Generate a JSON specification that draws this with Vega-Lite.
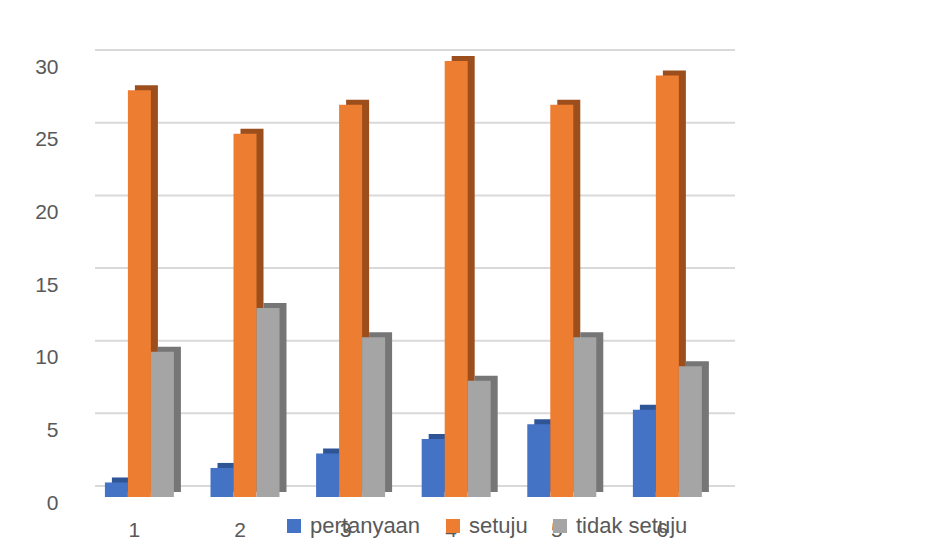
{
  "$schema": "https://vega.github.io/schema/vega-lite/v6.json",
  "autosize": "none",
  "padding": {"left": 95, "top": 48, "right": 199, "bottom": 63},
  "width": 640,
  "height": 449,
  "background": "white",
  "config": {"view": {"stroke": null}, "font": "Liberation Sans"},
  "data": {
    "values": [
      {"q": "1", "s": "pertanyaan", "v": 1},
      {"q": "1", "s": "setuju", "v": 28},
      {"q": "1", "s": "tidak setuju", "v": 10},
      {"q": "2", "s": "pertanyaan", "v": 2},
      {"q": "2", "s": "setuju", "v": 25},
      {"q": "2", "s": "tidak setuju", "v": 13},
      {"q": "3", "s": "pertanyaan", "v": 3},
      {"q": "3", "s": "setuju", "v": 27},
      {"q": "3", "s": "tidak setuju", "v": 11},
      {"q": "4", "s": "pertanyaan", "v": 4},
      {"q": "4", "s": "setuju", "v": 30},
      {"q": "4", "s": "tidak setuju", "v": 8},
      {"q": "5", "s": "pertanyaan", "v": 5},
      {"q": "5", "s": "setuju", "v": 27},
      {"q": "5", "s": "tidak setuju", "v": 11},
      {"q": "6", "s": "pertanyaan", "v": 6},
      {"q": "6", "s": "setuju", "v": 29},
      {"q": "6", "s": "tidak setuju", "v": 9}
    ]
  },
  "layer": [
    {
      "data": {"values": [{"g": 0}, {"g": 5}, {"g": 10}, {"g": 15}, {"g": 20}, {"g": 25}, {"g": 30}]},
      "mark": {"type": "rule", "color": "#d9d9d9", "strokeWidth": 2, "yOffset": -11, "y2Offset": -11},
      "encoding": {
        "y": {"field": "g", "type": "quantitative", "scale": {"domain": [0, 30.9], "nice": false, "zero": true},
          "axis": {"title": null, "values": [0, 5, 10, 15, 20, 25, 30], "domain": false, "ticks": false, "grid": false, "labelFontSize": 21, "labelColor": "#595959", "labelPadding": 37, "labelOffset": 6}}
      }
    },
    {
      "mark": {"type": "bar", "yOffset": -5, "y2Offset": -5},
      "encoding": {
        "x": {"field": "q", "type": "nominal", "scale": {"paddingInner": 0.347, "paddingOuter": 0.204, "align": 0.23},
          "axis": {"title": null, "domain": false, "ticks": false, "labelAngle": 0, "labelFontSize": 21, "labelColor": "#595959", "labelPadding": 22, "labelOffset": -5}},
        "xOffset": {"field": "s", "type": "nominal", "sort": ["pertanyaan", "setuju", "tidak setuju"], "scale": {"range": [7, 76]}},
        "y": {"field": "v", "type": "quantitative", "scale": {"domain": [0, 30.9], "nice": false},
          "axis": {"title": null, "values": [0, 5, 10, 15, 20, 25, 30], "domain": false, "ticks": false, "grid": false, "labelFontSize": 21, "labelColor": "#595959", "labelPadding": 37, "labelOffset": 6}},
        "color": {"field": "s", "type": "nominal", "scale": {"domain": ["pertanyaan", "setuju", "tidak setuju"], "range": ["#2F5597", "#9C4F1C", "#767676"]}, "legend": null}
      }
    },
    {
      "mark": {"type": "bar"},
      "encoding": {
        "x": {"field": "q", "type": "nominal", "scale": {"paddingInner": 0.347, "paddingOuter": 0.204, "align": 0.23},
          "axis": {"title": null, "domain": false, "ticks": false, "labelAngle": 0, "labelFontSize": 21, "labelColor": "#595959", "labelPadding": 22, "labelOffset": -5}},
        "xOffset": {"field": "s", "type": "nominal", "sort": ["pertanyaan", "setuju", "tidak setuju"], "scale": {"range": [0, 69]}},
        "y": {"field": "v", "type": "quantitative", "scale": {"domain": [0, 30.9], "nice": false},
          "axis": {"title": null, "values": [0, 5, 10, 15, 20, 25, 30], "domain": false, "ticks": false, "grid": false, "labelFontSize": 21, "labelColor": "#595959", "labelPadding": 37, "labelOffset": 6}},
        "color": {"field": "s", "type": "nominal", "scale": {"domain": ["pertanyaan", "setuju", "tidak setuju"], "range": ["#4472C4", "#ED7D31", "#A5A5A5"]},
          "legend": {"title": null, "orient": "none", "direction": "horizontal", "legendX": 188, "legendY": 467, "symbolType": "square", "symbolSize": 196, "symbolStrokeWidth": 0, "labelFontSize": 22, "labelColor": "#595959", "labelOffset": 5, "columnPadding": 21}}
      }
    }
  ],
  "resolve": {"scale": {"color": "independent", "xOffset": "independent"}}
}
